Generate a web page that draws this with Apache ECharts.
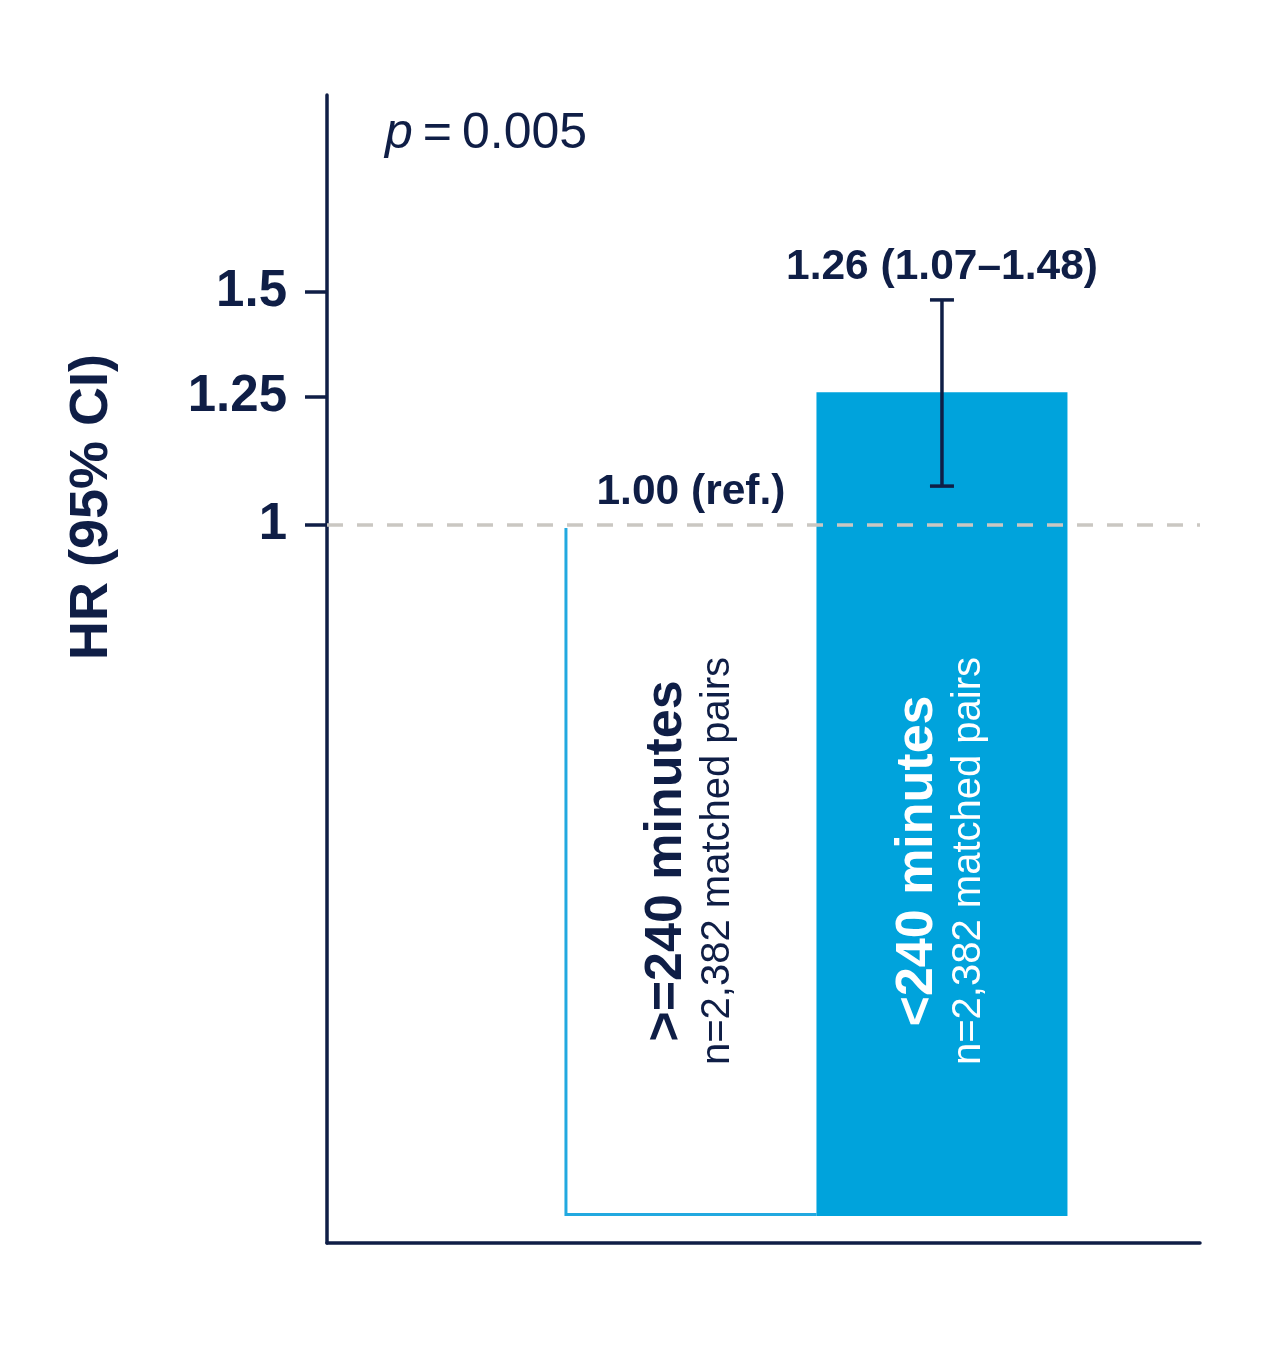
<!DOCTYPE html>
<html>
<head>
<meta charset="utf-8">
<title>HR (95% CI)</title>
<script src="https://cdn.jsdelivr.net/npm/echarts@6/dist/echarts.min.js"></script>
<style>
    html, body { margin: 0; padding: 0; background: #ffffff; }
    #chart { width: 1280px; height: 1366px; }
</style>
</head>
<body>
<div id="chart"></div>
<script>
// 数据
const categories = ['>=240 minutes', '<240 minutes'];
const groupSizes = ['n=2,382 matched pairs', 'n=2,382 matched pairs'];
const hrValues = [1.00, 1.26];
const ciLower = [null, 1.07];
const ciUpper = [null, 1.48];
const valueLabels = ['1.00 (ref.)', '1.26 (1.07\u20131.48)'];
const yTicks = [1, 1.25, 1.5];
const refLine = 1;
const barBase = 0.3;
const pSymbol = 'p';
const pText = '0.005';
const yTitle = 'HR (95% CI)';

const NAVY = '#0f1e46';
const BLUE = '#00a3dc';
const BLUE_LINE = '#22a9e0';
const FONT = "'Liberation Sans', Arial, sans-serif";

document.addEventListener('DOMContentLoaded', function () {
    initHrChart();
});

function initHrChart() {
    const chartDom = document.getElementById('chart');
    const myChart = echarts.init(chartDom);

    const seriesData = categories.map(function (c, i) {
        return [i, hrValues[i], ciLower[i], ciUpper[i]];
    });

    function renderBar(params, api) {
        const i = params.dataIndex;
        const value = api.value(1);
        const lo = ciLower[i];
        const hi = ciUpper[i];
        const top = api.coord([i, value]);
        const base = api.coord([i, barBase]);
        const w = api.size([1, 0])[0];
        const left = top[0] - w / 2;
        const children = [];
        const isRef = lo == null;

        if (isRef) {
            // 参照组: 只画左边和底边
            children.push({
                type: 'polyline',
                shape: { points: [[left + 0.5, top[1] + 3], [left + 0.5, base[1] - 1.5], [left + w, base[1] - 1.5]] },
                style: { stroke: BLUE_LINE, lineWidth: 3, fill: null }
            });
        } else {
            children.push({
                type: 'rect',
                shape: { x: left, y: top[1], width: w, height: base[1] - top[1] },
                style: { fill: BLUE }
            });
            const pHi = api.coord([i, hi]);
            const pLo = api.coord([i, lo]);
            children.push({
                type: 'line',
                shape: { x1: pHi[0], y1: pHi[1], x2: pLo[0], y2: pLo[1] },
                style: { stroke: NAVY, lineWidth: 3.5 }
            });
            [pHi, pLo].forEach(function (p) {
                children.push({
                    type: 'line',
                    shape: { x1: p[0] - 12, y1: p[1], x2: p[0] + 12, y2: p[1] },
                    style: { stroke: NAVY, lineWidth: 3.5 }
                });
            });
        }

        // 数值标签
        const labelY = api.coord([i, hi == null ? value : Math.max(value, hi)])[1] - 33;
        children.push({
            type: 'text',
            x: top[0],
            y: labelY,
            style: {
                text: valueLabels[i],
                fill: NAVY,
                fontFamily: FONT,
                fontSize: 42.5,
                fontWeight: 'bold',
                align: 'center',
                verticalAlign: 'middle'
            }
        });

        // 柱内竖排文字
        const textColor = isRef ? NAVY : '#ffffff';
        const midY = base[1] - 355;
        children.push({
            type: 'text',
            x: top[0] - 24,
            y: midY,
            rotation: Math.PI / 2,
            style: {
                text: categories[i],
                fill: textColor,
                fontFamily: FONT,
                fontSize: 52,
                fontWeight: 'bold',
                align: 'center',
                verticalAlign: 'middle'
            }
        });
        children.push({
            type: 'text',
            x: top[0] + 27,
            y: midY,
            rotation: Math.PI / 2,
            style: {
                text: groupSizes[i],
                fill: textColor,
                fontFamily: FONT,
                fontSize: 40,
                align: 'center',
                verticalAlign: 'middle'
            }
        });

        return { type: 'group', children: children };
    }

    const option = {
        animation: false,
        backgroundColor: '#ffffff',
        grid: {
            left: 327,
            right: 80,
            top: 95,
            bottom: 123
        },
        xAxis: {
            type: 'value',
            min: -1.45,
            max: 2.028,
            axisLine: {
                show: true,
                onZero: false,
                lineStyle: { color: NAVY, width: 3.5 }
            },
            axisTick: { show: false },
            axisLabel: { show: false },
            splitLine: { show: false }
        },
        yAxis: {
            type: 'log',
            logBase: 10,
            min: 0.2862,
            max: 2.115,
            axisLine: {
                show: true,
                onZero: false,
                lineStyle: { color: NAVY, width: 3.5 }
            },
            axisTick: {
                show: true,
                customValues: yTicks,
                length: 22,
                lineStyle: { color: NAVY, width: 3.5 }
            },
            axisLabel: {
                customValues: yTicks,
                margin: 40,
                padding: [6, 0, 0, 0],
                color: NAVY,
                fontFamily: FONT,
                fontSize: 51,
                fontWeight: 'bold',
                formatter: function (v) {
                    return String(+Number(v).toFixed(2));
                }
            },
            splitLine: { show: false },
            minorTick: { show: false }
        },
        graphic: [
            {
                type: 'text',
                x: 385,
                y: 134,
                style: {
                    text: '{i|' + pSymbol + '}\u2009=\u2009' + pText,
                    fill: NAVY,
                    fontFamily: FONT,
                    fontSize: 50,
                    verticalAlign: 'middle',
                    rich: {
                        i: { fontStyle: 'italic', fontFamily: FONT, fontSize: 50, fill: NAVY }
                    }
                }
            },
            {
                type: 'text',
                x: 92,
                y: 507,
                rotation: Math.PI / 2,
                style: {
                    text: yTitle,
                    fill: NAVY,
                    fontFamily: FONT,
                    fontSize: 54,
                    fontWeight: 'bold',
                    align: 'center',
                    verticalAlign: 'middle'
                }
            }
        ],
        series: [
            {
                // 参考线 HR = 1
                type: 'line',
                data: [[0, refLine]],
                symbol: 'none',
                z: 1,
                lineStyle: { opacity: 0 },
                markLine: {
                    silent: true,
                    symbol: ['none', 'none'],
                    label: { show: false },
                    lineStyle: { type: [16, 14], color: '#cac7c2', width: 3.5 },
                    data: [{ yAxis: refLine }]
                }
            },
            {
                type: 'custom',
                z: 3,
                clip: false,
                encode: { x: 0, y: 1 },
                data: seriesData,
                renderItem: renderBar
            }
        ]
    };

    myChart.setOption(option);

    window.addEventListener('resize', function () {
        myChart.resize();
    });
}
</script>
</body>
</html>
